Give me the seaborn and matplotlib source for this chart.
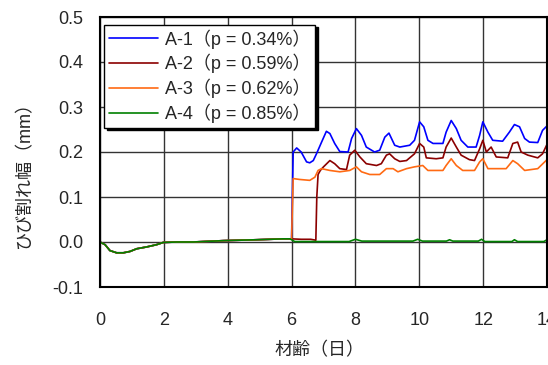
import numpy as np
import pandas as pd
import matplotlib
matplotlib.use("Agg")
import matplotlib.pyplot as plt
import seaborn as sns

# early phase (all four specimens nearly identical up to day 6)
early_day = [0.0, 0.16, 0.31, 0.52, 0.73, 0.94, 1.15, 1.46, 1.77, 1.98, 2.4, 2.92, 3.86, 4.9, 5.74, 5.95]
early_val = [0.0, -0.006, -0.019, -0.024, -0.024, -0.021, -0.015, -0.011, -0.006, -0.001, 0.0, 0.0, 0.003, 0.005, 0.007, 0.007]

a1_day = [6.0, 6.05, 6.16, 6.3, 6.47, 6.57, 6.68, 6.78, 6.94, 7.09, 7.2, 7.35, 7.51, 7.77, 7.88, 8.03,
          8.19, 8.34, 8.6, 8.76, 8.92, 9.05, 9.23, 9.39, 9.7, 9.85, 10.01, 10.14, 10.27, 10.43, 10.74,
          10.84, 11.0, 11.16, 11.31, 11.52, 11.78, 11.89, 11.99, 12.15, 12.3, 12.61, 12.82, 12.98,
          13.14, 13.3, 13.45, 13.71, 13.86, 14.0]
a1_val = [0.007, 0.2, 0.209, 0.2, 0.178, 0.176, 0.181, 0.196, 0.222, 0.246, 0.241, 0.219, 0.201, 0.2,
          0.23, 0.252, 0.237, 0.211, 0.2, 0.204, 0.233, 0.242, 0.215, 0.211, 0.215, 0.226, 0.267, 0.256,
          0.226, 0.219, 0.219, 0.244, 0.27, 0.252, 0.226, 0.211, 0.211, 0.237, 0.267, 0.244, 0.226,
          0.224, 0.244, 0.261, 0.256, 0.23, 0.222, 0.221, 0.248, 0.258]

a2_day = [6.0, 6.3, 6.6, 6.76, 6.79, 6.83, 6.9, 7.0, 7.2, 7.35, 7.51, 7.72, 7.82, 7.98, 8.14, 8.34, 8.66,
          8.81, 8.97, 9.07, 9.23, 9.39, 9.6, 9.85, 10.01, 10.14, 10.22, 10.53, 10.74, 10.84, 11.0,
          11.16, 11.31, 11.57, 11.73, 11.89, 11.99, 12.1, 12.25, 12.41, 12.77, 12.93, 13.08, 13.19,
          13.4, 13.71, 13.86, 14.0]
a2_val = [0.007, 0.006, 0.006, 0.004, 0.1, 0.15, 0.159, 0.167, 0.181, 0.174, 0.163, 0.161, 0.193, 0.204,
          0.189, 0.174, 0.17, 0.174, 0.193, 0.196, 0.185, 0.179, 0.181, 0.196, 0.219, 0.211, 0.187,
          0.185, 0.187, 0.211, 0.231, 0.211, 0.193, 0.183, 0.181, 0.207, 0.226, 0.2, 0.211, 0.189,
          0.187, 0.219, 0.222, 0.2, 0.193, 0.187, 0.196, 0.217]

a3_day = [6.0, 6.05, 6.25, 6.57, 6.73, 6.83, 6.94, 7.2, 7.51, 7.82, 8.03, 8.19, 8.45, 8.76, 8.97, 9.18,
          9.33, 9.6, 9.85, 10.11, 10.27, 10.74, 10.84, 11.0, 11.16, 11.36, 11.73, 11.89, 11.99, 12.15,
          12.72, 12.93, 13.08, 13.3, 13.71, 14.0]
a3_val = [0.007, 0.141, 0.139, 0.137, 0.144, 0.159, 0.163, 0.159, 0.156, 0.159, 0.167, 0.156, 0.15,
          0.15, 0.163, 0.163, 0.156, 0.163, 0.167, 0.17, 0.159, 0.159, 0.17, 0.185, 0.17, 0.159, 0.159,
          0.178, 0.185, 0.163, 0.163, 0.181, 0.174, 0.159, 0.163, 0.183]

a4_day = [6.0, 6.1, 7.8, 8.0, 8.2, 9.8, 9.95, 10.1, 10.85, 10.95, 11.05, 11.85, 11.95, 12.05, 12.9,
          12.98, 13.08, 13.9, 14.0]
a4_val = [0.005, 0.001, 0.001, 0.006, 0.002, 0.002, 0.006, 0.002, 0.002, 0.005, 0.002, 0.002, 0.006,
          0.001, 0.001, 0.005, 0.001, 0.001, 0.005]

labels = ["A-1（p = 0.34%）", "A-2（p = 0.59%）", "A-3（p = 0.62%）", "A-4（p = 0.85%）"]
colors = ["#0000FF", "#8B0000", "#FF6A13", "#008000"]
later = [(a1_day, a1_val), (a2_day, a2_val), (a3_day, a3_val), (a4_day, a4_val)]

frames = []
for lab, (d, v) in zip(labels, later):
    frames.append(pd.DataFrame({"day": early_day + d, "width": early_val + v, "series": lab}))
df = pd.concat(frames, ignore_index=True)

sns.set_theme(style="white")
plt.rcParams["font.family"] = ["Liberation Sans", "Noto Sans CJK JP", "DejaVu Sans"]

fig = plt.figure(figsize=(5.48, 3.65), dpi=100)
ax = fig.add_axes([100 / 548, 1 - 287 / 365, 447 / 548, 270 / 365])

sns.lineplot(data=df, x="day", y="width", hue="series", palette=colors, sort=False,
             linewidth=1.2, ax=ax)

ax.set_xlim(0, 14)
ax.set_ylim(-0.1, 0.5)
ax.set_xticks(np.arange(0, 15, 2))
ax.set_yticks(np.arange(-0.1, 0.51, 0.1))
ax.set_yticklabels(["-0.1", "0.0", "0.1", "0.2", "0.3", "0.4", "0.5"])
ax.grid(True, color="#333333", linewidth=1)
ax.tick_params(axis="x", length=0, labelsize=13, pad=18)
ax.tick_params(axis="y", length=0, labelsize=13, pad=12)
for s in ax.spines.values():
    s.set_color("black")
    s.set_linewidth(1.5)
ax.set_xlabel("材齢（日）", fontsize=13)
ax.set_ylabel("ひび割れ幅（mm）", fontsize=13)
ax.xaxis.set_label_coords(0.49, -0.205)
ax.yaxis.set_label_coords(-0.15, 0.43)

leg = ax.legend(loc="upper left", bbox_to_anchor=(0.01, 0.972), borderaxespad=0,
                fontsize=13, handlelength=2.7, labelspacing=0.3, handletextpad=0.4,
                borderpad=0.25, fancybox=False, frameon=True,
                shadow={"color": "black", "alpha": 1})
leg.get_frame().set_edgecolor("black")
leg.get_frame().set_linewidth(1)

fig.savefig("out.png", dpi=100)
